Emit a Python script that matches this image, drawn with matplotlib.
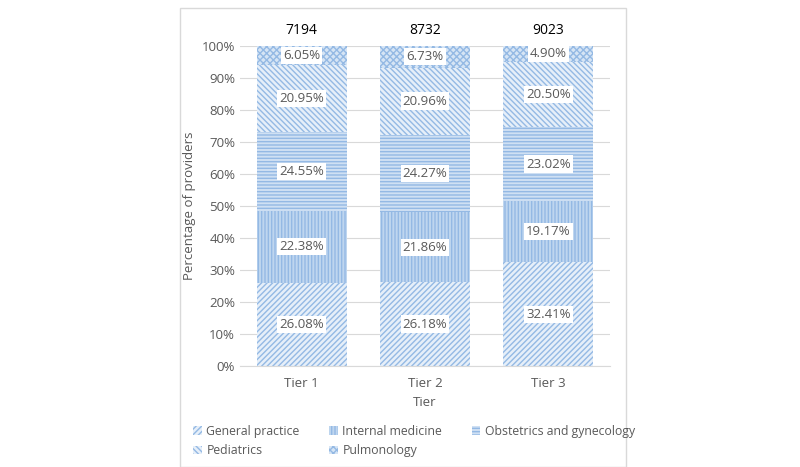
import numpy as np
import matplotlib.pyplot as plt
from matplotlib.patches import Rectangle

plt.rcParams['font.family'] = ['Open Sans', 'DejaVu Sans']
plt.rcParams['hatch.linewidth'] = 1.0

# data
tiers = ['Tier 1', 'Tier 2', 'Tier 3']
totals = [7194, 8732, 9023]
specialties = ['General practice', 'Internal medicine', 'Obstetrics and gynecology',
               'Pediatrics', 'Pulmonology']
general = [26.08, 26.18, 32.41]
internal = [22.38, 21.86, 19.17]
obstetrics = [24.55, 24.27, 23.02]
pediatrics = [20.95, 20.96, 20.50]
pulmonology = [6.05, 6.73, 4.90]

series = [general, internal, obstetrics, pediatrics, pulmonology]
hatches = ['//////', '|||||', '-----', '\\\\\\\\\\\\', 'xxxxx']
faces = ['#e6eff9', '#bfd6ef', '#cfe0f3', '#e6eff9', '#d6e5f5']
hatch_col = '#94b9e4'
text_col = '#595959'
fs = 9.5

fig = plt.figure(figsize=(8, 4.67), dpi=100)
ax = fig.add_axes([0.3, 0.2163, 0.4625, 0.6852])

# chart frame
fig.patches.append(Rectangle((180 / 800, 0), 446 / 800, 1 - 8 / 467,
                             transform=fig.transFigure, fill=False,
                             edgecolor='#d9d9d9', linewidth=1))

x = np.arange(len(tiers))
bottom = np.zeros(len(tiers))
handles = []
for name, vals, h, fc in zip(specialties, series, hatches, faces):
    bars = ax.bar(x, vals, 0.73, bottom=bottom, color=fc, edgecolor=hatch_col,
                  hatch=h, linewidth=0, label=name)
    handles.append(bars)
    for xi, b, v in zip(x, bottom, vals):
        ax.text(xi, b + v / 2, f'{v:.2f}%', ha='center', va='center', fontsize=fs,
                color=text_col,
                bbox=dict(facecolor='white', edgecolor='none', pad=1.5))
    bottom += np.array(vals)

for xi, t in zip(x, totals):
    ax.text(xi, 102.5, str(t), ha='center', va='bottom', fontsize=10, color='black')

ax.set_ylim(0, 100)
ax.set_xlim(-0.5, 2.5)
ax.set_yticks(np.arange(0, 101, 10))
ax.set_yticklabels([f'{v}%' for v in range(0, 101, 10)])
ax.set_xticks(x)
ax.set_xticklabels(tiers)
ax.tick_params(axis='both', length=0, colors=text_col, labelsize=fs)
ax.tick_params(axis='x', pad=8)
ax.yaxis.grid(True, color='#d9d9d9', linewidth=0.8)
ax.set_axisbelow(True)
for s in ['top', 'right', 'left']:
    ax.spines[s].set_visible(False)
ax.spines['bottom'].set_color('#d9d9d9')
ax.set_ylabel('Percentage of providers', color=text_col, fontsize=fs)
ax.set_xlabel('Tier', color=text_col, fontsize=fs, labelpad=4)

# row-major legend order for 3 columns
order = [0, 3, 1, 4, 2]
fig.legend([handles[i] for i in order], [specialties[i] for i in order],
           loc='upper left', bbox_to_anchor=(182 / 800, 1 - 414 / 467), ncol=3,
           frameon=False, fontsize=8.8, labelcolor=text_col, handlelength=0.7,
           handleheight=0.7, handletextpad=0.4, columnspacing=2.4, labelspacing=0.5)

fig.savefig('out.png', dpi=100)
